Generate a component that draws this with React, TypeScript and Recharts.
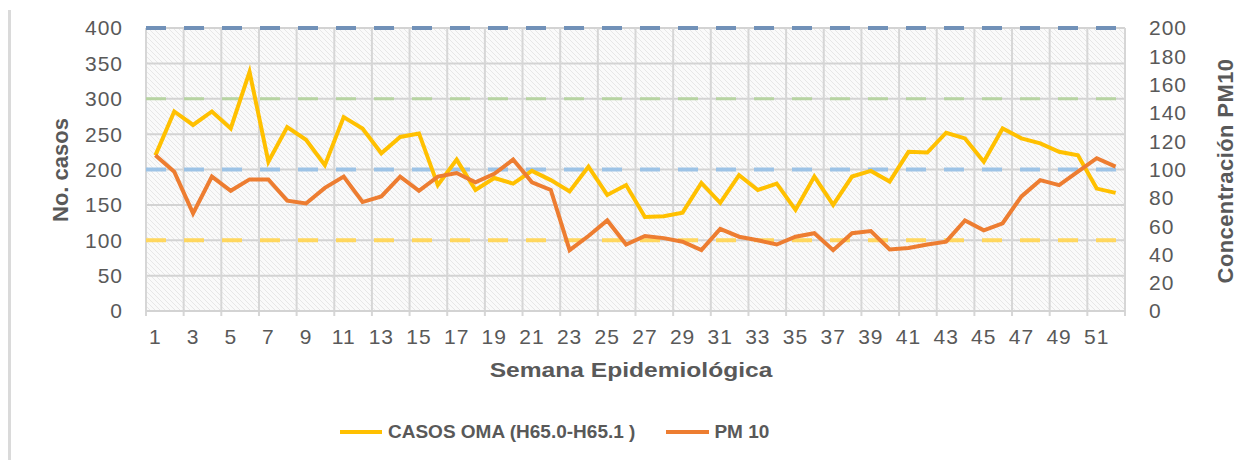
import {
  CartesianGrid,
  Line,
  LineChart,
  ReferenceLine,
  XAxis,
  YAxis,
} from "recharts";

const weeks = [
  1, 2, 3, 4, 5, 6, 7, 8, 9, 10, 11, 12, 13, 14, 15, 16, 17, 18, 19, 20, 21, 22, 23, 24, 25, 26,
  27, 28, 29, 30, 31, 32, 33, 34, 35, 36, 37, 38, 39, 40, 41, 42, 43, 44, 45, 46, 47, 48, 49, 50,
  51, 52,
];

// casos OMA (H65.0-H65.1), eje izquierdo
const casosOma = [
  220, 282, 263, 282, 258, 338, 211, 260, 242, 206, 274, 258, 223, 246, 251, 178, 214, 171, 188,
  180, 198, 185, 169, 204, 164, 178, 133, 134, 139, 181, 153, 192, 171, 180, 143, 190, 150, 190,
  198, 183, 225, 224, 252, 244, 211, 258, 244, 237, 225, 220, 173, 167,
];

// PM10, eje derecho
const pm10 = [
  110, 98.5, 69, 95, 85, 93, 93, 78, 76, 87, 95, 77, 81, 95, 85, 95, 97.5, 91, 97, 107, 91, 85.5,
  43, 53, 64, 47, 53, 51.5, 49, 43, 58, 52.5, 50, 47, 52.5, 55, 43, 55, 56.5, 43.5, 44.5, 47, 49,
  64, 57, 62, 81, 92.5, 89, 98.5, 108, 102,
];

const leftTicks = [0, 50, 100, 150, 200, 250, 300, 350, 400];
const rightTicks = [0, 20, 40, 60, 80, 100, 120, 140, 160, 180, 200];
const weekTicks = weeks.filter((w) => w % 2 === 1);

// dashed guide lines on the left axis
const guides = [
  { value: 100, color: "#FFD75E" },
  { value: 200, color: "#9DC3E6" },
  { value: 300, color: "#B7D4A2" },
  { value: 400, color: "#7191B8" },
];

const chartData = weeks.map((week, i) => ({
  week,
  casos: casosOma[i],
  pm10: pm10[i],
}));

// category boundaries every two weeks (Excel style gridlines)
const boundaries = [0.5, ...weeks.filter((w) => w % 2 === 0).map((w) => w + 0.5)];

const FONT = "'Liberation Sans', Arial, sans-serif";
const TEXT = "#595959";
const tickStyle = { fill: TEXT, fontSize: 21, fontFamily: FONT, letterSpacing: 1 };

export default function App() {
  return (
    <div
      style={{
        position: "absolute",
        left: 0,
        top: 0,
        width: 1254,
        height: 460,
        background: "#fff",
        fontFamily: FONT,
      }}
    >
      <svg width={0} height={0} style={{ position: "absolute" }}>
        <defs>
          <pattern id="hatch" width={5} height={5} patternUnits="userSpaceOnUse">
            <rect width={5} height={5} fill="#fafafa" />
            <path d="M0,0 L5,5 M-1,4 L1,6 M4,-1 L6,1" stroke="#e2e2e2" strokeWidth={0.8} />
          </pattern>
        </defs>
      </svg>

      <div
        style={{
          position: "absolute",
          left: 8,
          top: 10,
          width: 3,
          height: 450,
          background: "#dadada",
        }}
      />

      <LineChart
        width={1254}
        height={400}
        data={chartData}
        margin={{ top: 28, right: 0, left: 0, bottom: 9 }}
        style={{ position: "absolute", left: 0, top: 0 }}
      >
        <CartesianGrid
          yAxisId="left"
          vertical={false}
          stroke="#d3d3d3"
          strokeWidth={2}
          fill="url(#hatch)"
          fillOpacity={1}
        />
        <XAxis
          type="number"
          dataKey="week"
          domain={[0.5, 52.5]}
          ticks={weekTicks}
          interval={0}
          height={80}
          tickLine={false}
          tickSize={6}
          tickMargin={12}
          axisLine={{ stroke: "#d3d3d3", strokeWidth: 2 }}
          tick={tickStyle}
        />
        <YAxis
          yAxisId="left"
          domain={[0, 400]}
          ticks={leftTicks}
          interval={0}
          width={146}
          axisLine={false}
          tickLine={false}
          tickSize={6}
          tickMargin={17}
          tick={tickStyle}
        />
        <YAxis
          yAxisId="right"
          orientation="right"
          domain={[0, 200]}
          ticks={rightTicks}
          interval={0}
          width={129}
          axisLine={false}
          tickLine={false}
          tickSize={6}
          tickMargin={18}
          tick={{ ...tickStyle, textAnchor: "start" }}
        />
        {boundaries.map((b) => (
          <ReferenceLine
            key={b}
            yAxisId="left"
            ifOverflow="visible"
            segment={[
              { x: b, y: -7 },
              { x: b, y: 400 },
            ]}
            stroke="#d6d6d6"
            strokeWidth={2}
          />
        ))}
        {guides.map((g) => (
          <ReferenceLine
            key={g.value}
            yAxisId="left"
            y={g.value}
            stroke={g.color}
            strokeWidth={g.value === 300 ? 3 : 4}
            strokeDasharray="20 18"
          />
        ))}
        <Line
          yAxisId="left"
          type="linear"
          dataKey="casos"
          stroke="#FFC000"
          strokeWidth={4}
          dot={false}
          isAnimationActive={false}
        />
        <Line
          yAxisId="right"
          type="linear"
          dataKey="pm10"
          stroke="#ED7D31"
          strokeWidth={4}
          dot={false}
          isAnimationActive={false}
        />
      </LineChart>

      <div
        style={{
          position: "absolute",
          left: 61,
          top: 170,
          transform: "translate(-50%, -50%) rotate(-90deg)",
          whiteSpace: "nowrap",
          fontSize: 22,
          fontWeight: 700,
          color: TEXT,
        }}
      >
        No. casos
      </div>
      <div
        style={{
          position: "absolute",
          left: 1226,
          top: 171,
          transform: "translate(-50%, -50%) rotate(-90deg)",
          whiteSpace: "nowrap",
          fontSize: 22,
          fontWeight: 700,
          color: TEXT,
          letterSpacing: 0.4,
        }}
      >
        Concentración PM10
      </div>
      <div
        style={{
          position: "absolute",
          left: 631,
          top: 370,
          transform: "translate(-50%, -50%) scaleX(1.17)",
          whiteSpace: "nowrap",
          fontSize: 21,
          fontWeight: 700,
          color: TEXT,
        }}
      >
        Semana Epidemiológica
      </div>

      <div
        style={{
          position: "absolute",
          left: 340,
          top: 421,
          display: "flex",
          alignItems: "center",
          fontSize: 19,
          fontWeight: 700,
          color: TEXT,
          whiteSpace: "nowrap",
        }}
      >
        <span style={{ width: 42, height: 4, background: "#FFC000", marginRight: 6 }} />
        <span>CASOS OMA (H65.0-H65.1 )</span>
        <span
          style={{ width: 43, height: 4, background: "#ED7D31", marginLeft: 31, marginRight: 5 }}
        />
        <span>PM 10</span>
      </div>
    </div>
  );
}
